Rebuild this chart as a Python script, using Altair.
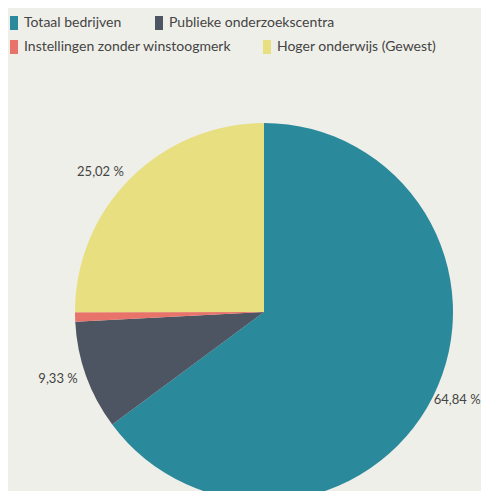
import altair as alt
import pandas as pd

categories = ["Totaal bedrijven", "Publieke onderzoekscentra",
              "Instellingen zonder winstoogmerk", "Hoger onderwijs (Gewest)"]
values = [64.84, 9.33, 0.81, 25.02]
labels_right = ["64,84 %", "", "", ""]
labels_left = ["", "9,33 %", "", "25,02 %"]
colors = ["#2a8a9c", "#4e5562", "#e8736a", "#e8df80"]
legend_rows = [categories[:2], categories[2:]]

df = pd.DataFrame({
    "cat": categories,
    "value": values,
    "lab_r": labels_right,
    "lab_l": labels_left,
    "order": list(range(len(categories))),
})

FONT = "Lato"

base = alt.Chart(df).encode(
    theta=alt.Theta("value:Q", stack=True),
    order=alt.Order("order:Q", sort="ascending"),
    x=alt.value(256),
    y=alt.value(304),
)

arc = base.mark_arc(radius=189, stroke=None).encode(
    color=alt.Color("cat:N", scale=alt.Scale(domain=categories, range=colors),
                    legend=None)
)

text_r = base.mark_text(radius=190, dy=3, font=FONT, fontSize=13, color="#444444",
                        align="left", baseline="middle").encode(text="lab_r:N")
text_l = base.mark_text(radius=198, font=FONT, fontSize=13, color="#444444",
                        align="right", baseline="middle").encode(text="lab_l:N")


def legend_layer(row_cats, y, pad):
    row_cols = [colors[categories.index(c)] for c in row_cats]
    return alt.Chart(df).transform_filter(
        alt.FieldOneOfPredicate(field="cat", oneOf=row_cats)
    ).mark_point(filled=True, opacity=0).encode(
        x=alt.value(0),
        y=alt.value(0),
        color=alt.Color(
            "cat:N",
            scale=alt.Scale(domain=row_cats, range=row_cols),
            legend=alt.Legend(
                title=None,
                orient="none",
                legendX=-1,
                legendY=y,
                direction="horizontal",
                symbolType="M-0.57,-1H0.57V1H-0.57Z",
                symbolSize=196,
                symbolStrokeWidth=0,
                symbolOpacity=1,
                labelFont=FONT,
                labelFontSize=14,
                labelColor="#444444",
                labelOffset=3,
                labelLimit=400,
                columnPadding=pad,
                padding=0,
            ),
        ),
    )


leg1 = legend_layer(legend_rows[0], 8, 30)
leg2 = legend_layer(legend_rows[1], 32, 28)

chart = alt.layer(arc, text_r, text_l, leg1, leg2).resolve_scale(
    color="independent"
).properties(
    width=473,
    height=483,
    background="#efefe9",
    autosize=alt.AutoSizeParams(type="none"),
    padding=0,
).configure_view(stroke=None)

chart.save("out.html", embed_options={"renderer": "svg", "actions": False})
